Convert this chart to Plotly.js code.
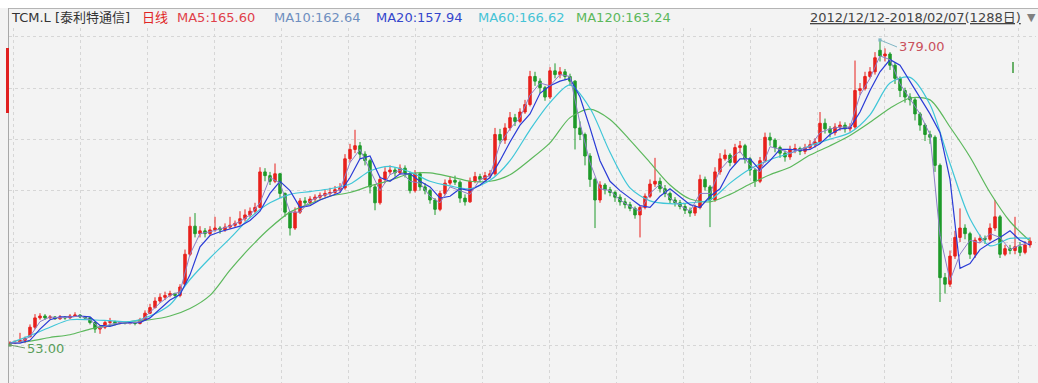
<!DOCTYPE html>
<html>
<head>
<meta charset="utf-8">
<script src="https://cdn.plot.ly/plotly-3.0.1.min.js"></script>
<style>html,body{margin:0;padding:0;background:#f3f3f3;}#chart{width:1038px;height:383px;}</style>
</head>
<body>
<div id="chart"></div>
<script>
// ---- Data (one bar ≈ 6 trading days, 2012/12/12 – 2018/02/07) ----
const openP = [54,55,56,58,62,72,82,84,82,83,81,83,82,84,85,83,82,77,70,72,77,78,76,77,76,77,76,80,87,93,100,104,106,108,106,118,150,180,172,175,172,176,178,176,179,181,183,188,192,196,200,238,234,228,236,215,195,178,195,207,205,209,211,213,215,216,219,221,252,262,266,257,250,222,205,230,238,240,237,242,236,218,236,222,218,208,198,215,226,229,227,210,206,228,233,230,234,236,278,272,285,296,292,302,310,340,335,328,318,346,342,345,340,335,285,278,255,230,208,224,219,216,211,206,203,199,192,200,212,225,228,220,215,208,205,201,197,194,200,230,222,208,238,252,256,248,264,266,252,240,228,250,275,272,264,258,254,262,263,260,264,267,270,290,284,280,286,288,284,286,325,327,340,345,368,362,364,352,338,325,318,315,300,288,278,275,245,125,118,148,168,178,172,150,165,167,166,178,190,150,156,154,158,152,160];
const closeP = [55,56,58,60,72,82,84,82,83,81,83,82,84,85,83,82,77,70,72,77,78,76,77,76,77,76,80,87,93,100,104,106,108,106,115,150,180,172,175,172,176,178,176,179,181,183,188,192,196,200,238,234,228,236,215,195,178,195,207,205,209,211,213,215,216,219,221,252,262,266,257,250,222,205,230,238,240,237,242,236,218,236,222,218,208,198,215,226,229,227,210,206,228,233,230,234,236,278,272,285,296,292,302,310,340,335,328,318,346,342,345,340,335,285,278,255,230,208,224,219,216,211,206,203,199,192,200,212,225,228,220,215,208,205,201,197,194,200,230,222,208,238,252,256,248,264,266,252,240,228,250,275,272,264,258,254,262,263,260,264,267,270,290,284,280,286,288,284,286,325,327,340,345,360,362,364,352,338,325,318,315,300,288,278,275,245,125,118,148,168,178,172,150,165,167,166,178,190,150,156,154,158,152,160,164];
const highP = [57,58,66,62,75,86,87,86,85,84,85,84,86,88,86,84,83,78,74,79,82,79,78,78,78,78,82,90,97,104,108,110,111,109,118,155,190,194,180,178,180,190,180,183,190,186,196,198,200,205,243,242,238,247,237,216,196,200,210,211,212,214,216,219,221,223,226,257,268,283,270,260,252,225,233,243,245,243,246,245,238,240,238,226,220,210,218,230,233,234,229,214,232,238,236,238,240,285,284,290,302,300,306,315,346,345,338,330,350,354,350,348,343,336,292,280,258,232,228,226,222,218,214,210,206,201,202,215,230,253,232,224,217,211,208,204,200,203,235,233,224,243,258,262,258,268,271,268,254,242,254,280,280,274,266,261,266,268,265,268,272,274,302,295,287,290,292,291,290,357,333,345,350,366,379,370,366,355,340,328,322,318,302,290,282,277,247,130,154,175,199,182,174,168,171,170,183,208,192,160,160,190,163,164,168];
const lowP = [53,54,55,55,61,70,80,80,81,80,80,80,81,83,82,80,75,66,65,70,75,74,75,75,75,74,75,79,86,92,98,101,104,103,104,116,148,168,168,168,170,174,172,174,177,179,181,185,189,193,199,228,224,226,210,190,170,176,193,202,203,206,209,211,212,214,216,219,248,258,252,245,215,197,203,226,235,233,235,232,215,216,218,214,204,192,196,213,224,224,205,202,205,226,227,229,231,234,268,268,282,287,290,300,308,330,322,314,316,338,338,336,330,262,272,245,222,178,205,214,212,206,202,199,196,188,168,198,210,222,216,211,204,201,198,193,190,191,198,218,179,206,235,250,244,246,258,247,234,222,226,248,266,259,253,249,251,258,256,257,262,264,268,279,275,277,282,280,281,284,320,325,338,342,356,356,347,332,318,312,309,293,282,271,268,238,99,108,115,145,163,166,145,146,162,161,164,175,146,148,150,150,148,150,157];

// moving averages (MA10/MA20 every 2 bars, MA60/MA120 every 4 bars)
const ma10 = [55,56,62,78,83,82,83,84,80,71,75,77,76,78,88,98,106,110,150,172,174,177,180,185,192,205,232,226,195,195,207,212,215,219,248,262,240,218,235,240,228,226,212,205,222,218,214,230,234,268,284,296,320,333,330,342,340,290,248,220,218,208,201,196,215,225,210,202,196,215,215,240,252,260,245,238,265,262,258,262,265,280,284,286,286,320,338,362,358,332,316,300,278,170,122,150,165,162,172,168,155,160,162];
const ma20 = [55,55,58,70,80,83,83,84,83,74,73,76,77,77,82,92,101,107,128,158,170,174,177,180,186,196,215,228,218,200,202,208,212,216,232,252,255,232,228,236,236,228,222,210,212,220,218,224,232,250,270,288,300,322,330,335,338,318,285,250,228,218,210,202,200,212,220,212,203,200,212,220,240,252,252,240,250,262,262,261,262,268,278,284,285,302,325,345,358,352,335,318,300,280,230,135,140,155,162,168,175,165,160,158,158];
const ma60 = [55,63,72,80,80,79,78,84,96,123,146,167,189,205,214,217,220,225,239,244,238,228,223,220,229,250,283,312,331,306,259,221,207,204,205,208,226,241,251,258,266,273,280,299,333,339,310,247,188,159,167,167];
const ma120 = [55,57,61,64,70,74,78,80,84,92,106,133,157,178,195,204,212,216,223,229,236,237,233,228,228,235,251,269,296,305,294,272,248,224,209,206,214,225,235,243,256,266,277,291,306,317,315,286,254,216,185,164];

const headerItems = [
  {text: "TCM.L [泰利特通信]", color: "#333333"},
  {text: "日线", color: "#e02424"},
  {text: "MA5:165.60", color: "#e0404a"},
  {text: "MA10:162.64", color: "#6f8fc0"},
  {text: "MA20:157.94", color: "#3446cc"},
  {text: "MA60:166.62", color: "#45c3d6"},
  {text: "MA120:163.24", color: "#5cb85c"}
];
const rangeText = "2012/12/12-2018/02/07(1288日)";
const highLabel = "379.00";
const lowLabel = "53.00";

// ---- Layout helpers ----
const W = 1038, H = 383, ML = 9, MR = 2, MT = 28, MB = 0;
const PW = W - ML - MR, PH = H - MT - MB;
const px = x => (x - ML) / PW;
const py = y => (H - MB - y) / PH;
const FONT = "DejaVu Sans, Noto Sans CJK SC, sans-serif";

const idx = openP.map((_, i) => i);
const x2 = ma10.map((_, i) => i * 2);
const x4 = ma60.map((_, i) => i * 4);

// index of extreme bars
let hiI = 0, loI = 0;
highP.forEach((v, i) => { if (v > highP[hiI]) hiI = i; });
lowP.forEach((v, i) => { if (v < lowP[loI]) loI = i; });

const traces = [
  {type: "scatter", mode: "lines", x: x4, y: ma120, line: {color: "#5cb85c", width: 1.2, shape: "spline", smoothing: 0.8}, hoverinfo: "skip"},
  {type: "scatter", mode: "lines", x: x4, y: ma60, line: {color: "#3fc6d8", width: 1.2, shape: "spline", smoothing: 0.8}, hoverinfo: "skip"},
  {type: "candlestick", x: idx, open: openP, high: highP, low: lowP, close: closeP,
   increasing: {line: {color: "#e8211c", width: 1}, fillcolor: "#e8211c"},
   decreasing: {line: {color: "#1e9a2a", width: 1}, fillcolor: "#1e9a2a"},
   whiskerwidth: 0, hoverinfo: "skip"},
  {type: "scatter", mode: "lines", x: x2, y: ma20, line: {color: "#2a3bd6", width: 1.2}, hoverinfo: "skip"},
  {type: "scatter", mode: "lines", x: x2, y: ma10, line: {color: "#8c7fc8", width: 1}, hoverinfo: "skip"}
];

const headerX = [9, 140, 175, 272, 374, 476, 574];
const annotations = headerItems.map((h, i) => ({
  xref: "paper", yref: "paper", x: px(headerX[i]), y: py(17),
  xanchor: "left", yanchor: "middle", showarrow: false, text: h.text,
  font: {family: FONT, size: 13, color: h.color}
}));
annotations.push({
  xref: "paper", yref: "paper", x: px(1023), y: py(17), xanchor: "right", yanchor: "middle",
  showarrow: false, text: rangeText,
  font: {family: FONT, size: 13, color: "#444444", lineposition: "under"}
});
annotations.push({
  xref: "paper", yref: "paper", x: px(1031), y: py(17), xanchor: "center", yanchor: "middle",
  showarrow: false, text: "▼", font: {family: "DejaVu Sans", size: 11, color: "#808080"}
});
annotations.push({
  x: hiI, y: highP[hiI], xref: "x", yref: "y", text: highLabel, showarrow: true,
  ax: 17, ay: 7, xanchor: "left", arrowhead: 7, arrowsize: 0.8, arrowwidth: 1, arrowcolor: "#7fb6c4",
  font: {family: FONT, size: 13, color: "#c9505c"}
});
annotations.push({
  x: loI, y: lowP[loI], xref: "x", yref: "y", text: lowLabel, showarrow: true,
  ax: 15, ay: 3, xanchor: "left", arrowhead: 7, arrowsize: 0.8, arrowwidth: 1, arrowcolor: "#6a9e6a",
  font: {family: FONT, size: 13, color: "#5a9e5a"}
});

const shapes = [
  {type: "rect", xref: "paper", yref: "paper", x0: px(0), x1: px(W), y0: py(0), y1: py(8), fillcolor: "#ffffff", line: {width: 0}, layer: "below"},
  {type: "line", xref: "paper", yref: "paper", x0: px(8), x1: px(W), y0: py(8.5), y1: py(8.5), line: {color: "#b4b4b4", width: 1}},
  {type: "line", xref: "paper", yref: "paper", x0: px(8.5), x1: px(8.5), y0: py(8), y1: py(H), line: {color: "#a8a8a8", width: 1}},
  {type: "rect", xref: "paper", yref: "paper", x0: px(6), x1: px(9), y0: py(48), y1: py(113), fillcolor: "#e02020", line: {width: 0}},
  {type: "line", xref: "paper", yref: "paper", x0: px(1013), x1: px(1013), y0: py(62), y1: py(73), line: {color: "#3a9a3a", width: 1.5}}
];

const layout = {
  width: W, height: H,
  margin: {l: ML, r: MR, t: MT, b: MB, pad: 0},
  paper_bgcolor: "#f3f3f3", plot_bgcolor: "#f3f3f3",
  showlegend: false, hovermode: false,
  xaxis: {range: [-0.2, 205.2], showticklabels: false, ticks: "", zeroline: false, showline: false,
          showgrid: true, gridcolor: "#d6d6d6", griddash: "dot", gridwidth: 1, tick0: 14, dtick: 13.4,
          rangeslider: {visible: false}, fixedrange: true},
  yaxis: {range: [12.4, 391.8], showticklabels: false, ticks: "", zeroline: false, showline: false,
          showgrid: true, gridcolor: "#d6d6d6", griddash: "dot", gridwidth: 1, tick0: 53, dtick: 54.9, fixedrange: true},
  annotations: annotations,
  shapes: shapes
};

Plotly.newPlot("chart", traces, layout, {displayModeBar: false, staticPlot: true});
</script>
</body>
</html>
